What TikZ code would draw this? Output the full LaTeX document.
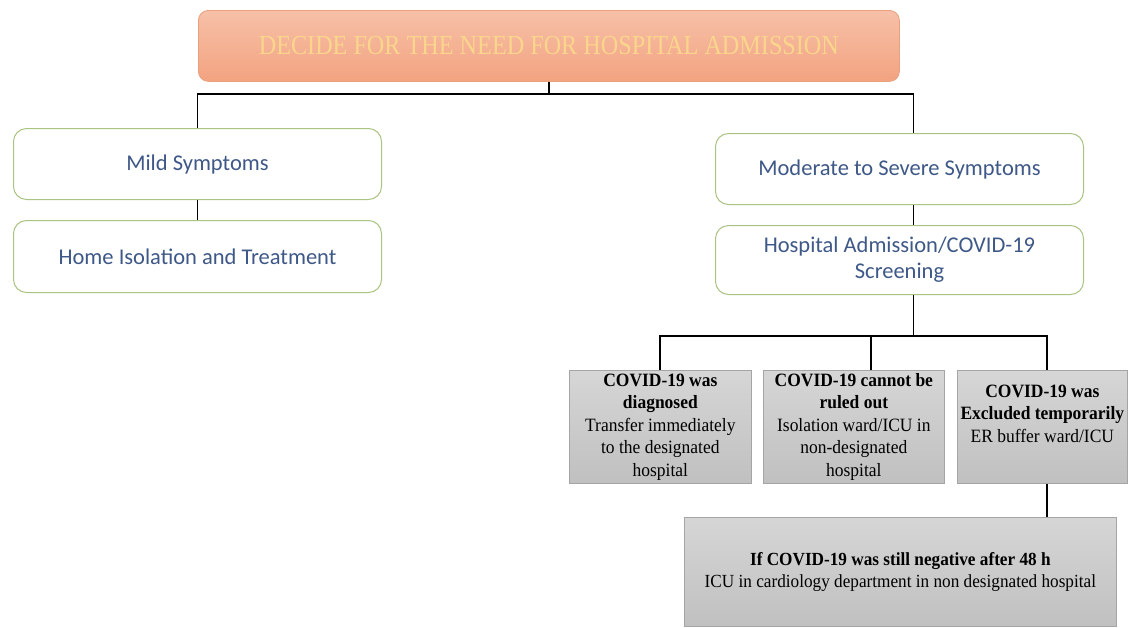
\documentclass[tikz,border=0pt]{standalone}
\usepackage{fontspec}
\setmainfont{Liberation Serif}
\newfontfamily\calib{Carlito}
\newfontfamily\titlefont[FakeStretch=0.88]{Liberation Serif}
\newfontfamily\boxfont[FakeStretch=0.93]{Liberation Serif}
\definecolor{txtblue}{RGB}{62,88,135}
\definecolor{greenline}{RGB}{170,196,130}
\definecolor{ttop}{RGB}{246,192,168}
\definecolor{tbot}{RGB}{243,163,128}
\definecolor{tborder}{RGB}{232,160,125}
\definecolor{ttext}{RGB}{250,214,140}
\definecolor{gtop}{RGB}{214,214,214}
\definecolor{gbot}{RGB}{192,192,192}
\definecolor{gborder}{RGB}{165,165,165}
\tikzset{
  titlebox/.style={draw=tborder, line width=0.8pt, rounded corners=10pt, shading=axis, top color=ttop, bottom color=tbot, anchor=north west, inner sep=0pt, text=ttext, font=\titlefont\fontsize{27.5}{30}\selectfont},
  greenbox/.style={draw=greenline, line width=1pt, fill=white, rounded corners=13pt, anchor=north west, inner sep=0pt, align=center, text=txtblue, font=\calib\fontsize{22.5}{26}\selectfont},
  graybox/.style={draw=gborder, line width=0.7pt, shading=axis, top color=gtop, bottom color=gbot, anchor=north west, inner sep=0pt, align=center, text=black, font=\boxfont\fontsize{18.8}{22.5}\selectfont},
  conn/.style={draw=black, line width=1.8pt},
}
\begin{document}
\begin{tikzpicture}[x=1pt,y=-1pt]
\useasboundingbox[fill=white] (0,0) rectangle (1128,627);
\node[titlebox, minimum width=701pt, minimum height=71pt] (title) at (198,10) {DECIDE FOR THE NEED FOR HOSPITAL ADMISSION};
\node[greenbox, minimum width=368pt, minimum height=71pt] (mild) at (13,128) {Mild Symptoms};
\node[greenbox, minimum width=368pt, minimum height=72pt] (home) at (13,220) {Home Isolation and Treatment};
\node[greenbox, minimum width=368pt, minimum height=71pt] (mod) at (715,133) {Moderate to Severe Symptoms};
\node[greenbox, minimum width=368pt, minimum height=69pt] (hosp) at (715,225) {Hospital Admission/COVID-19\\Screening};
\node[graybox, minimum width=182pt, minimum height=113pt] (b1) at (569,370) {\textbf{COVID-19 was}\\\textbf{diagnosed}\\Transfer immediately\\to the designated\\hospital};
\node[graybox, minimum width=181pt, minimum height=113pt] (b2) at (763,370) {\textbf{COVID-19 cannot be}\\\textbf{ruled out}\\Isolation ward/ICU in\\non-designated\\hospital};
\node[graybox, minimum width=170pt, minimum height=113pt] (b3) at (957,370) {\textbf{COVID-19 was}\\\textbf{Excluded temporarily}\\ER buffer ward/ICU\\[4pt]};
\node[graybox, minimum width=432pt, minimum height=109pt, font=\boxfont\fontsize{18.5}{22}\selectfont] (bot) at (684,517) {\textbf{If COVID-19 was still negative after 48 h}\\ICU in cardiology department in non designated hospital};
\coordinate (h1) at (0,94);
\coordinate (h2) at (0,336);
\draw[conn] (title.south) -- (title.south |- h1);
\draw[conn] (mild.north) |- ([xshift=14pt]mod.north |- h1) -- ([xshift=14pt]mod.north);
\draw[conn] (mild.south) -- (home.north);
\draw[conn] ([xshift=14pt]mod.south) -- ([xshift=14pt]hosp.north);
\draw[conn] ([xshift=14pt]hosp.south) -- ([xshift=14pt]hosp.south |- h2);
\draw[conn] (b1.north) |- ([xshift=5pt]b3.north |- h2) -- ([xshift=5pt]b3.north);
\draw[conn] ([xshift=17.5pt]b2.north) -- ([xshift=17.5pt]b2.north |- h2);
\draw[conn] ([xshift=5pt]b3.south) -- ([xshift=5pt]b3.south |- bot.north);
\end{tikzpicture}
\end{document}
